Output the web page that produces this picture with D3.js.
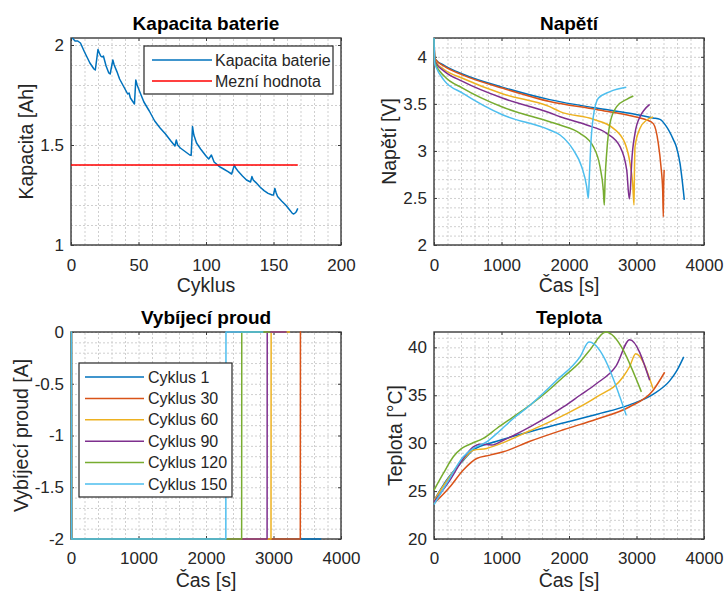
<!DOCTYPE html>
<html><head><meta charset="utf-8">
<script src="https://cdn.jsdelivr.net/npm/d3@7/dist/d3.min.js"></script>
<style>
body{margin:0;background:#fff}
svg{display:block}
text{font-family:"Liberation Sans",Arial,Helvetica,sans-serif}
</style>
</head><body>
<svg id="c" width="726" height="593"></svg>
<script>
// ---------------- DATA ----------------
const capCycles = [1,3,5,6,7,10,14,17,18,20,21,22,23,24,26,28,29,31,32,34,36,40,42,43,44,46,47,48,49,51,54,58,62,66,70,74,77,78,79,81,84,88,89,90,91,93,96,100,102,104,106,110,113,116,119,121,122,124,127,130,133,134,135,137,140,143,146,149,150,151,152,153,156,159,162,164,165,166,167,168];
const capValues = [2.035,2.02,2.02,2.015,2.01,1.965,1.91,1.88,1.875,1.978,1.96,1.945,1.94,1.945,1.895,1.86,1.855,1.925,1.90,1.867,1.83,1.78,1.755,1.76,1.735,1.715,1.705,1.825,1.80,1.765,1.715,1.67,1.62,1.585,1.555,1.52,1.495,1.525,1.50,1.485,1.47,1.45,1.448,1.592,1.55,1.51,1.48,1.445,1.43,1.45,1.415,1.392,1.38,1.368,1.355,1.40,1.385,1.367,1.345,1.325,1.315,1.342,1.325,1.312,1.29,1.272,1.258,1.25,1.25,1.283,1.26,1.242,1.22,1.2,1.175,1.158,1.155,1.16,1.168,1.183];
const limitCycles = [0, 168];
const limitValues = [1.4, 1.4];
const capLegend = ["Kapacita baterie", "Mezní hodnota"];

const cycleNames = ["Cyklus 1","Cyklus 30","Cyklus 60","Cyklus 90","Cyklus 120","Cyklus 150"];

// voltage [time s, V]
const voltC1   = [[0,4.2],[10,4.0],[25,3.97],[150,3.91],[430,3.815],[1022,3.675],[1714,3.545],[2405,3.455],[2899,3.40],[3244,3.35],[3348,3.335],[3442,3.26],[3546,3.12],[3590,3.045],[3644,2.87],[3675,2.7],[3708,2.48]];
const voltC30  = [[0,4.2],[10,4.0],[25,3.97],[150,3.90],[430,3.805],[1022,3.665],[1714,3.525],[2405,3.44],[3012,3.357],[3150,3.33],[3249,3.29],[3323,3.08],[3363,2.83],[3388,2.58],[3397,2.30],[3402,2.6],[3410,2.8]];
const voltC60  = [[0,4.2],[10,3.98],[25,3.95],[150,3.865],[430,3.77],[1022,3.605],[1714,3.47],[1867,3.417],[2360,3.336],[2657,3.24],[2830,3.08],[2904,2.87],[2943,2.656],[2963,2.425],[2970,2.8],[2978,3.045],[3052,3.24],[3151,3.328],[3244,3.36]];
const voltC90  = [[0,4.2],[10,3.97],[25,3.94],[150,3.848],[430,3.736],[1022,3.559],[1714,3.405],[1867,3.363],[2262,3.275],[2558,3.187],[2756,3.045],[2855,2.797],[2893,2.49],[2910,2.6],[2928,2.868],[2978,3.187],[3052,3.363],[3120,3.44],[3195,3.495]];
const voltC120 = [[0,4.2],[10,3.95],[25,3.92],[150,3.795],[430,3.665],[1022,3.464],[1714,3.31],[1867,3.275],[2163,3.187],[2360,3.045],[2459,2.832],[2508,2.584],[2523,2.425],[2535,2.7],[2558,2.974],[2607,3.293],[2706,3.47],[2855,3.548],[2953,3.583]];
const voltC150 = [[0,4.2],[10,3.93],[25,3.90],[150,3.75],[430,3.612],[1022,3.382],[1714,3.222],[1867,3.169],[2064,3.01],[2188,2.832],[2262,2.62],[2286,2.496],[2300,2.7],[2321,3.045],[2360,3.363],[2434,3.559],[2607,3.63],[2849,3.676]];

// discharge current [time s, A]
const currC1   = [[0,0],[6,0],[8,-2],[3708,-2]];
const currC30  = [[0,0],[6,0],[8,-2],[3397,-2],[3399,0],[3410,0]];
const currC60  = [[0,0],[6,0],[8,-2],[2963,-2],[2965,0],[3244,0]];
const currC90  = [[0,0],[6,0],[8,-2],[2905,-2],[2907,0],[3195,0]];
const currC120 = [[0,0],[6,0],[8,-2],[2528,-2],[2530,0],[2953,0]];
const currC150 = [[0,0],[6,0],[8,-2],[2294,-2],[2296,0],[2849,0]];

// temperature [time s, °C]
const tempC1   = [[0,24.0],[183,26.1],[434,28.2],[582,29.3],[929,30.2],[1422,31.2],[1911,32.1],[2405,33.0],[2899,34.0],[3244,35.1],[3491,36.5],[3600,37.6],[3700,39.0]];
const tempC30  = [[0,23.7],[237,25.45],[434,27.2],[632,28.4],[830,28.75],[1027,29.1],[1422,30.2],[1916,31.4],[2405,32.5],[2899,33.8],[3244,35.5],[3417,37.4]];
const tempC60  = [[0,24.0],[183,26.0],[434,28.3],[582,29.27],[780,29.45],[929,29.8],[1422,31.3],[1916,32.9],[2405,34.8],[2800,36.9],[2899,38.0],[2988,39.34],[3244,35.7]];
const tempC90  = [[0,23.9],[237,26.15],[434,28.4],[582,29.62],[681,29.9],[854,29.8],[1027,30.3],[1422,31.7],[1916,33.78],[2163,35.0],[2405,36.2],[2701,38.1],[2899,40.8],[3195,36.56]];
const tempC120 = [[0,25.1],[138,26.84],[286,28.58],[410,29.45],[558,29.97],[730,30.49],[929,31.53],[1175,32.74],[1422,33.96],[1669,35.34],[1916,36.9],[2163,38.47],[2306,39.7],[2543,41.6],[3072,35.35]];
const tempC150 = [[0,23.6],[188,25.8],[434,28.58],[582,29.45],[780,30.14],[929,31.0],[1175,32.57],[1422,33.96],[1817,36.56],[2163,39.0],[2296,40.55],[2849,32.9]];

const capXTicks = [0,50,100,150,200];
const capYTicks = [1,1.5,2];
const voltYTicks = [2,2.5,3,3.5,4];
const currYTicks = [-2,-1.5,-1,-0.5,0];
const tempYTicks = [20,25,30,35,40];
const timeTicks = [0,1000,2000,3000,4000];

// ---------------- DRAWING ----------------
const svg = d3.select("#c");
const colors = ["#0072BD","#D95319","#EDB120","#7E2F8E","#77AC30","#4DBEEE"];
const axisColor = "#3a3a3a";
const textColor = "#262626";
let clipId = 0;

function minorRange(a, b, step){
  const n = Math.round((b - a) / step);
  const out = [];
  for (let i = 0; i <= n; i++) out.push(+(a + i * step).toFixed(6));
  return out;
}

function panel(cfg){
  const g = svg.append("g");
  const x = d3.scaleLinear().domain(cfg.xDomain).range([cfg.l, cfg.r]);
  const y = d3.scaleLinear().domain(cfg.yDomain).range([cfg.b, cfg.t]);
  const w = cfg.r - cfg.l, h = cfg.b - cfg.t;

  g.append("rect").attr("x",cfg.l).attr("y",cfg.t).attr("width",w).attr("height",h).attr("fill","#fff");

  // grid (minor + major) via axes
  const xGridVals = minorRange(cfg.xDomain[0], cfg.xDomain[1], cfg.xMinor);
  const yGridVals = minorRange(cfg.yGridStart, cfg.yDomain[1], cfg.yMinor).filter(v => v <= cfg.yDomain[1]);
  const gx = g.append("g").attr("transform",`translate(0,${cfg.b})`)
    .call(d3.axisBottom(x).tickValues(xGridVals).tickSize(-h).tickFormat(""));
  const gy = g.append("g").attr("transform",`translate(${cfg.l},0)`)
    .call(d3.axisLeft(y).tickValues(yGridVals).tickSize(-w).tickFormat(""));
  [gx, gy].forEach(s => {
    s.select(".domain").remove();
    s.selectAll("line").attr("stroke","#cfcfcf").attr("stroke-width",1).attr("stroke-dasharray","2,2");
  });

  // box (under the data, as in the reference)
  g.append("rect").attr("x",cfg.l).attr("y",cfg.t).attr("width",w).attr("height",h)
    .attr("fill","none").attr("stroke",axisColor).attr("stroke-width",1.4);

  // axes with tick labels (ticks inward)
  const fs = 17;
  const ax = g.append("g").attr("transform",`translate(0,${cfg.b})`)
    .call(d3.axisBottom(x).tickValues(cfg.xTicks).tickSizeInner(-3).tickSizeOuter(0).tickPadding(cfg.xPad).tickFormat(d3.format("d")));
  const ay = g.append("g").attr("transform",`translate(${cfg.l},0)`)
    .call(d3.axisLeft(y).tickValues(cfg.yTicks).tickSizeInner(-3).tickSizeOuter(0).tickPadding(7).tickFormat(cfg.yFmt));
  const at = g.append("g").attr("transform",`translate(0,${cfg.t})`)
    .call(d3.axisTop(x).tickValues(cfg.xTicks).tickSizeInner(-3).tickSizeOuter(0).tickFormat(""));
  const ar = g.append("g").attr("transform",`translate(${cfg.r},0)`)
    .call(d3.axisRight(y).tickValues(cfg.yTicks).tickSizeInner(-3).tickSizeOuter(0).tickFormat(""));
  [ax, ay, at, ar].forEach(s => {
    s.select(".domain").remove();
    s.attr("font-family",null).attr("font-size",null);
    s.selectAll("line").attr("stroke",axisColor).attr("stroke-width",1);
    s.selectAll("text").attr("fill",textColor).attr("font-size",fs);
  });

  // data
  const cid = "clip" + (clipId++);
  g.append("clipPath").attr("id",cid).append("rect")
    .attr("x",cfg.l-1).attr("y",cfg.t-1).attr("width",w+2).attr("height",h+2);
  const dg = g.append("g").attr("clip-path",`url(#${cid})`);
  cfg.series.forEach(s => {
    const line = d3.line().x(d => x(d[0])).y(d => y(d[1])).curve(s.curve || d3.curveLinear);
    dg.append("path").datum(s.data).attr("d", line)
      .attr("fill","none").attr("stroke", s.color).attr("stroke-width", 1.5)
      .attr("stroke-linejoin","round");
  });

  // title & labels
  g.append("text").attr("x",(cfg.l+cfg.r)/2).attr("y",cfg.titleY).attr("text-anchor","middle")
    .attr("font-weight","bold").attr("font-size",19).attr("fill","#000").text(cfg.title);
  g.append("text").attr("x",(cfg.l+cfg.r)/2).attr("y",cfg.xLabelY).attr("text-anchor","middle")
    .attr("font-size",19.5).attr("fill",textColor).text(cfg.xLabel);
  g.append("text").attr("transform",`translate(${cfg.yLabelX},${(cfg.t+cfg.b)/2}) rotate(-90)`)
    .attr("text-anchor","middle").attr("font-size",19.5).attr("fill",textColor).text(cfg.yLabel);

  // legend
  if (cfg.legend){
    const L = cfg.legend;
    const lg = g.append("g");
    lg.append("rect").attr("x",L.x).attr("y",L.y).attr("width",L.w).attr("height",L.h)
      .attr("fill","#fff").attr("stroke","#262626").attr("stroke-width",1.2);
    L.items.forEach((it, i) => {
      const yy = L.y0 + i * L.dy;
      lg.append("line").attr("x1",L.lx1).attr("x2",L.lx2).attr("y1",yy).attr("y2",yy)
        .attr("stroke",it.color).attr("stroke-width",1.5);
      lg.append("text").attr("x",L.tx).attr("y",yy).attr("dy","0.35em")
        .attr("font-size",16).attr("fill",textColor).text(it.name);
    });
  }
}

const fmtPlain = d => String(d);
const mono = d3.curveMonotoneX;
const voltSeries = [voltC1,voltC30,voltC60,voltC90,voltC120,voltC150];
const currSeries = [currC1,currC30,currC60,currC90,currC120,currC150];
const tempSeries = [tempC1,tempC30,tempC60,tempC90,tempC120,tempC150];

// Panel 1: capacity
panel({
  l:71, r:341, t:38, b:245,
  xDomain:[0,200], yDomain:[1,2.035], xMinor:10, yMinor:0.1, yGridStart:1,
  xTicks:capXTicks, yTicks:capYTicks, yFmt:fmtPlain, xPad:14,
  title:"Kapacita baterie", titleY:29.5, xLabel:"Cyklus", xLabelY:292, yLabel:"Kapacita [Ah]", yLabelX:33,
  series:[
    {data: capCycles.map((c,i)=>[c,capValues[i]]), color:colors[0]},
    {data: limitCycles.map((c,i)=>[c,limitValues[i]]), color:"#FF0000"}
  ],
  legend:{x:144,y:46,w:189,h:48,y0:60,dy:21,lx1:152,lx2:212,tx:215,
    items:[{name:capLegend[0],color:colors[0]},{name:capLegend[1],color:"#FF0000"}]}
});

// Panel 2: voltage
panel({
  l:434, r:704, t:38, b:245,
  xDomain:[0,4000], yDomain:[2,4.2], xMinor:200, yMinor:0.1, yGridStart:2,
  xTicks:timeTicks, yTicks:voltYTicks, yFmt:fmtPlain, xPad:14,
  title:"Napětí", titleY:29.5, xLabel:"Čas [s]", xLabelY:292, yLabel:"Napětí [V]", yLabelX:396,
  series: voltSeries.map((d,i)=>({data:d, color:colors[i], curve:mono}))
});

// Panel 3: current
panel({
  l:71, r:341, t:332, b:539,
  xDomain:[0,4000], yDomain:[-2,0], xMinor:200, yMinor:0.1, yGridStart:-2,
  xTicks:timeTicks, yTicks:currYTicks, yFmt:fmtPlain, xPad:12.5,
  title:"Vybíjecí proud", titleY:324, xLabel:"Čas [s]", xLabelY:587, yLabel:"Vybíjecí proud [A]", yLabelX:28,
  series: currSeries.map((d,i)=>({data:d, color:colors[i]})),
  legend:{x:79,y:363,w:153,h:134,y0:377,dy:21.4,lx1:85,lx2:144,tx:148,
    items: cycleNames.map((n,i)=>({name:n,color:colors[i]}))}
});

// Panel 4: temperature
panel({
  l:434, r:704, t:332, b:539,
  xDomain:[0,4000], yDomain:[20,41.6], xMinor:200, yMinor:1, yGridStart:20,
  xTicks:timeTicks, yTicks:tempYTicks, yFmt:fmtPlain, xPad:12.5,
  title:"Teplota", titleY:324, xLabel:"Čas [s]", xLabelY:587, yLabel:"Teplota [°C]", yLabelX:402,
  series: tempSeries.map((d,i)=>({data:d, color:colors[i], curve:mono}))
});
</script>
</body></html>
